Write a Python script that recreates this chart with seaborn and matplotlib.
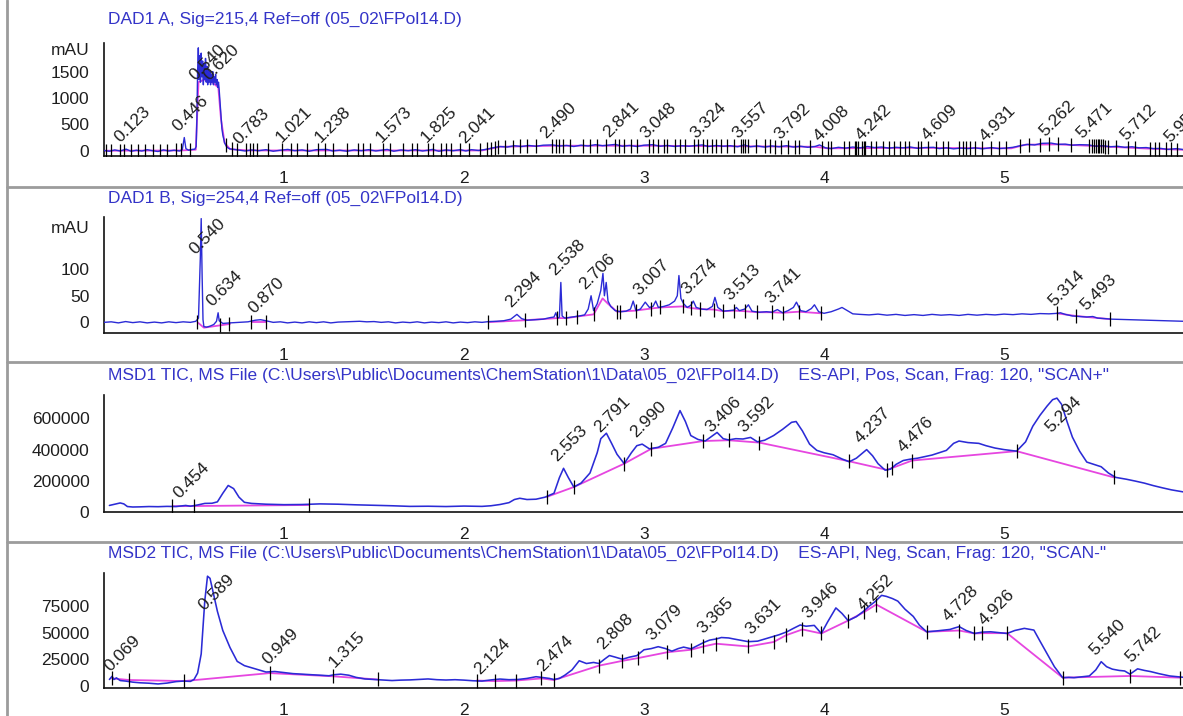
import numpy as np
import matplotlib
matplotlib.use("Agg")
import matplotlib.pyplot as plt
from matplotlib.lines import Line2D
from matplotlib.ticker import FixedLocator, MultipleLocator
import seaborn as sns

NAN = float("nan")

# ---------------- DAD1 A, 215 nm ----------------
dad_a_title = r"DAD1 A, Sig=215,4 Ref=off (05_02\FPol14.D)"
dad_a_trace = [
    (0.00, 5), (0.03, -10), (0.06, 15), (0.09, -5), (0.123, 30), (0.15, -10), (0.18, 10),
    (0.21, -5), (0.24, 20), (0.27, 0), (0.30, -15), (0.33, 15), (0.36, -5), (0.39, 10),
    (0.42, -5), (0.435, 20), (0.446, 250), (0.455, 40), (0.47, 10), (0.49, 25), (0.505, 30),
    (0.512, 80), (0.516, 600), (0.52, 1500), (0.524, 1950), (0.528, 1350), (0.532, 1800),
    (0.536, 1300), (0.540, 1850), (0.544, 1400), (0.548, 1700), (0.552, 1250), (0.556, 1650),
    (0.560, 1350), (0.564, 1750), (0.568, 1300), (0.572, 1600), (0.576, 1250), (0.580, 1550),
    (0.584, 1300), (0.588, 1500), (0.592, 1250), (0.596, 1450), (0.600, 1300), (0.604, 1500),
    (0.608, 1250), (0.612, 1400), (0.616, 1300), (0.620, 1450), (0.624, 1250), (0.628, 1350),
    (0.632, 1200), (0.636, 1300), (0.640, 1150), (0.645, 900), (0.650, 650), (0.655, 420),
    (0.660, 300), (0.665, 220), (0.670, 150), (0.680, 80), (0.690, 50), (0.700, 35),
    (0.72, 25), (0.75, 10), (0.783, -5), (0.82, 15), (0.86, 0), (0.90, 20), (0.94, -10),
    (0.98, 10), (1.021, 25), (1.06, 0), (1.10, 15), (1.14, -10), (1.18, 20), (1.238, 25),
    (1.27, -5), (1.31, 10), (1.35, -10), (1.39, 15), (1.43, 0), (1.47, 20), (1.51, -5),
    (1.54, 10), (1.573, 25), (1.61, -10), (1.65, 15), (1.69, 0), (1.73, 20), (1.77, -5),
    (1.80, 10), (1.825, 25), (1.86, -10), (1.90, 15), (1.94, 0), (1.98, 20), (2.01, -5),
    (2.041, 20), (2.08, 5), (2.12, 25), (2.16, 55), (2.20, 80), (2.24, 70), (2.28, 95),
    (2.32, 80), (2.36, 100), (2.40, 85), (2.44, 105), (2.490, 110), (2.53, 90), (2.57, 100),
    (2.61, 80), (2.65, 105), (2.69, 90), (2.73, 115), (2.77, 95), (2.80, 105), (2.841, 120),
    (2.88, 85), (2.92, 100), (2.96, 80), (3.00, 105), (3.048, 115), (3.09, 85), (3.13, 100),
    (3.17, 80), (3.21, 95), (3.25, 85), (3.29, 100), (3.324, 110), (3.36, 80), (3.40, 100),
    (3.44, 85), (3.48, 95), (3.52, 75), (3.557, 110), (3.59, 75), (3.63, 90), (3.67, 70),
    (3.71, 90), (3.75, 75), (3.792, 95), (3.83, 70), (3.87, 85), (3.91, 65), (3.95, 80),
    (3.975, 110), (4.008, 55), (4.04, 40), (4.08, 65), (4.12, 50), (4.16, 70), (4.20, 55),
    (4.242, 80), (4.28, 60), (4.32, 70), (4.36, 50), (4.40, 65), (4.44, 55), (4.48, 70),
    (4.52, 45), (4.56, 60), (4.609, 65), (4.64, 40), (4.68, 55), (4.72, 35), (4.76, 50),
    (4.80, 40), (4.84, 55), (4.88, 35), (4.931, 60), (4.97, 40), (5.01, 50), (5.05, 65),
    (5.09, 95), (5.13, 120), (5.17, 110), (5.21, 140), (5.262, 145), (5.30, 120), (5.34, 125),
    (5.38, 105), (5.42, 115), (5.471, 110), (5.51, 85), (5.55, 95), (5.59, 75), (5.63, 85),
    (5.67, 65), (5.712, 75), (5.75, 55), (5.79, 60), (5.83, 40), (5.87, 45), (5.91, 25),
    (5.958, 40), (6.00, 20),
]
dad_a_base = [
    (0.00, 0), (0.43, 5), (0.51, 20), (0.525, 1300), (0.56, 1350), (0.60, 1300), (0.635, 1200),
    (0.65, 600), (0.67, 150), (0.70, 30), (0.80, 5), (2.10, 5), (2.20, 75), (2.50, 95),
    (3.00, 95), (3.50, 85), (3.95, 75), (4.02, 45), (4.50, 55), (5.04, 45), (5.12, 115),
    (5.30, 120), (5.50, 90), (5.80, 40), (6.00, 18),
]
dad_a_events = [
    0.01, 0.04, 0.09, 0.11, 0.15, 0.19, 0.23, 0.27, 0.31, 0.35, 0.40, 0.43, 0.48, 0.68, 0.71,
    0.74, 0.79, 0.81, 0.83, 0.85, 0.91, 0.99, 1.04, 1.07, 1.13, 1.19, 1.23, 1.27, 1.35, 1.41,
    1.44, 1.48, 1.55, 1.59, 1.66, 1.71, 1.74, 1.80, 1.83, 1.87, 1.90, 1.93, 1.98, 2.03, 2.09,
    2.13, 2.15, 2.17, 2.19, 2.23, 2.27, 2.31, 2.35, 2.40, 2.49, 2.51, 2.53, 2.55, 2.59, 2.66,
    2.70, 2.74, 2.79, 2.84, 2.86, 2.89, 2.93, 2.96, 3.03, 3.05, 3.08, 3.11, 3.13, 3.17, 3.20,
    3.23, 3.28, 3.30, 3.33, 3.35, 3.38, 3.40, 3.43, 3.46, 3.50, 3.54, 3.55, 3.56, 3.58, 3.62,
    3.67, 3.70, 3.73, 3.76, 3.80, 3.84, 3.86, 3.92, 3.99, 4.02, 4.04, 4.11, 4.14, 4.17, 4.18,
    4.19, 4.21, 4.22, 4.23, 4.26, 4.29, 4.33, 4.36, 4.39, 4.42, 4.45, 4.47, 4.52, 4.54, 4.58,
    4.62, 4.66, 4.69, 4.75, 4.77, 4.79, 4.81, 4.84, 4.88, 4.93, 4.97, 5.01, 5.09, 5.14, 5.20,
    5.25, 5.30, 5.37, 5.47, 5.49, 5.50, 5.51, 5.52, 5.53, 5.54, 5.55, 5.56, 5.58, 5.62, 5.69,
    5.73, 5.81, 5.84, 5.86, 5.90, 5.93, 5.96,
]
dad_a_peaks = [0.123, 0.446, 0.540, 0.620, 0.783, 1.021, 1.238, 1.573, 1.825, 2.041, 2.490,
               2.841, 3.048, 3.324, 3.557, 3.792, 4.008, 4.242, 4.609, 4.931, 5.262, 5.471,
               5.712, 5.958]

# ---------------- DAD1 B, 254 nm ----------------
dad_b_title = r"DAD1 B, Sig=254,4 Ref=off (05_02\FPol14.D)"
dad_b_trace = [
    (0.00, 0), (0.04, 1), (0.08, -1), (0.12, 1.5), (0.16, -0.5), (0.20, 1), (0.24, -1),
    (0.28, 0.5), (0.32, -1), (0.36, 1), (0.40, -0.5), (0.44, 1), (0.48, 0), (0.51, 2),
    (0.525, 8), (0.535, 120), (0.540, 195), (0.545, 90), (0.55, 5), (0.555, -8), (0.57, -9),
    (0.59, -7), (0.61, -4), (0.625, 2), (0.634, 18), (0.64, 3), (0.66, -2), (0.70, -1),
    (0.75, 0), (0.80, 1), (0.84, 4), (0.870, 5), (0.90, 3), (0.94, 0), (0.98, 1), (1.02, -1),
    (1.06, 0.5), (1.10, -1), (1.14, 1), (1.18, -0.5), (1.22, 1), (1.26, -1), (1.30, 0.5),
    (1.34, 1), (1.38, 1.5), (1.42, 2), (1.46, 1), (1.50, 1.5), (1.54, 0), (1.58, 1),
    (1.62, -1), (1.66, 0.5), (1.70, -0.5), (1.74, 1), (1.78, -1), (1.82, 0.5), (1.86, -0.5),
    (1.90, 1), (1.94, -1), (1.98, 0.5), (2.02, -0.5), (2.06, 1), (2.10, 0), (2.14, 1.5),
    (2.18, 2), (2.22, 3), (2.26, 6), (2.294, 15), (2.32, 7), (2.35, 4), (2.40, 5), (2.44, 6),
    (2.48, 9), (2.50, 10), (2.51, 18), (2.52, 8), (2.53, 10), (2.538, 75), (2.545, 12),
    (2.56, 8), (2.60, 10), (2.64, 12), (2.67, 14), (2.69, 25), (2.706, 50), (2.72, 22),
    (2.74, 35), (2.76, 60), (2.772, 92), (2.78, 50), (2.79, 75), (2.80, 40), (2.815, 30),
    (2.84, 22), (2.87, 20), (2.90, 21), (2.925, 25), (2.94, 40), (2.955, 22), (2.98, 25),
    (3.007, 38), (3.03, 28), (3.05, 30), (3.065, 40), (3.08, 28), (3.11, 30), (3.14, 33),
    (3.17, 40), (3.185, 50), (3.194, 88), (3.205, 45), (3.22, 35), (3.24, 28), (3.26, 32),
    (3.274, 40), (3.29, 28), (3.32, 25), (3.35, 24), (3.38, 30), (3.394, 47), (3.41, 28),
    (3.44, 21), (3.47, 22), (3.50, 23), (3.513, 28), (3.53, 22), (3.56, 25), (3.58, 33),
    (3.60, 21), (3.64, 19), (3.68, 20), (3.71, 19), (3.741, 24), (3.77, 18), (3.80, 22),
    (3.83, 28), (3.847, 38), (3.87, 22), (3.90, 20), (3.93, 26), (3.947, 33), (3.97, 20),
    (4.00, 17), (4.04, 20), (4.08, 25), (4.10, 28), (4.13, 22), (4.16, 16), (4.20, 15),
    (4.25, 14), (4.30, 15.5), (4.35, 13.5), (4.40, 15), (4.45, 13), (4.50, 14.5), (4.55, 13),
    (4.60, 15), (4.65, 13.5), (4.70, 14.5), (4.75, 13), (4.80, 15), (4.85, 13.5), (4.90, 15),
    (4.95, 14), (5.00, 15.5), (5.05, 14.5), (5.10, 16), (5.15, 15), (5.20, 16.5), (5.25, 16),
    (5.30, 17), (5.314, 18), (5.34, 15), (5.38, 12), (5.42, 11), (5.46, 10), (5.493, 11),
    (5.52, 8), (5.56, 7), (5.60, 6), (5.65, 5.5), (5.70, 5), (5.75, 4.5), (5.80, 4),
    (5.85, 3.5), (5.90, 3), (5.95, 2.5), (6.00, 2),
]
dad_b_base = [
    (0.52, 0), (0.555, -10), (0.70, -3), (NAN, NAN),
    (0.82, 1), (0.90, 1), (NAN, NAN),
    (2.14, 0.5), (2.34, 4), (2.52, 8), (2.57, 8), (2.63, 11), (2.72, 15), (2.77, 45),
    (2.80, 35), (2.85, 20), (2.95, 22), (3.04, 26), (3.09, 28), (3.215, 30), (3.26, 27),
    (3.31, 25), (3.39, 24), (3.44, 21), (3.50, 22), (3.56, 21), (3.63, 19), (3.71, 19),
    (3.77, 18), (3.86, 20), (3.985, 17), (NAN, NAN),
    (5.294, 17), (5.40, 12), (5.59, 6),
]
dad_b_events = [0.519, 0.647, 0.694, 0.817, 0.898, 2.136, 2.338, 2.519, 2.568, 2.63, 2.72,
                2.85, 2.868, 2.953, 3.04, 3.09, 3.215, 3.262, 3.31, 3.39, 3.44, 3.50, 3.56,
                3.63, 3.71, 3.77, 3.86, 3.985, 5.294, 5.40, 5.59]
dad_b_peaks = [0.540, 0.634, 0.870, 2.294, 2.538, 2.706, 3.007, 3.274, 3.513, 3.741,
               5.314, 5.493]

# ---------------- MSD1 TIC, positive scan ----------------
msd1_title = (r"MSD1 TIC, MS File (C:\Users\Public\Documents\ChemStation\1\Data\05_02\FPol14.D)"
              r'    ES-API, Pos, Scan, Frag: 120, "SCAN+"')
msd1_trace = [
    (0.03, 42000), (0.06, 50000), (0.09, 58000), (0.11, 52000), (0.13, 35000), (0.16, 32000),
    (0.20, 33000), (0.25, 35000), (0.30, 34000), (0.35, 36000), (0.40, 35000), (0.454, 42000),
    (0.48, 37000), (0.52, 45000), (0.56, 55000), (0.60, 56000), (0.63, 65000), (0.66, 120000),
    (0.69, 170000), (0.72, 150000), (0.75, 95000), (0.78, 62000), (0.82, 55000), (0.90, 50000),
    (1.00, 47000), (1.10, 48000), (1.20, 52000), (1.30, 50000), (1.40, 46000), (1.50, 43000),
    (1.60, 40000), (1.70, 36000), (1.80, 37000), (1.90, 35000), (2.00, 38000), (2.10, 36000),
    (2.15, 40000), (2.20, 48000), (2.25, 60000), (2.28, 80000), (2.31, 88000), (2.35, 80000),
    (2.40, 82000), (2.45, 95000), (2.50, 120000), (2.53, 220000), (2.553, 280000),
    (2.58, 220000), (2.61, 160000), (2.65, 185000), (2.70, 250000), (2.74, 380000),
    (2.76, 470000), (2.791, 505000), (2.82, 440000), (2.85, 370000), (2.89, 310000),
    (2.93, 380000), (2.96, 425000), (2.990, 435000), (3.03, 405000), (3.08, 415000),
    (3.12, 440000), (3.16, 540000), (3.20, 650000), (3.23, 580000), (3.26, 490000),
    (3.30, 465000), (3.34, 455000), (3.37, 480000), (3.406, 510000), (3.44, 470000),
    (3.47, 462000), (3.51, 470000), (3.55, 468000), (3.592, 478000), (3.63, 450000),
    (3.67, 460000), (3.72, 490000), (3.77, 530000), (3.82, 575000), (3.845, 580000),
    (3.88, 520000), (3.92, 435000), (3.96, 395000), (4.00, 380000), (4.05, 367000),
    (4.10, 340000), (4.14, 322000), (4.18, 345000), (4.237, 400000), (4.27, 360000),
    (4.30, 310000), (4.34, 268000), (4.37, 275000), (4.40, 305000), (4.44, 330000),
    (4.476, 338000), (4.52, 345000), (4.56, 355000), (4.60, 365000), (4.64, 380000),
    (4.68, 395000), (4.72, 440000), (4.75, 455000), (4.80, 445000), (4.86, 440000),
    (4.90, 425000), (4.95, 410000), (5.00, 400000), (5.07, 390000), (5.12, 450000),
    (5.16, 550000), (5.20, 620000), (5.24, 680000), (5.27, 720000), (5.294, 730000),
    (5.32, 690000), (5.35, 580000), (5.38, 480000), (5.42, 390000), (5.46, 320000),
    (5.50, 305000), (5.54, 290000), (5.58, 250000), (5.62, 222000), (5.68, 210000),
    (5.73, 198000), (5.78, 185000), (5.83, 169000), (5.88, 155000), (5.93, 142000),
    (5.98, 132000), (6.00, 128000),
]
msd1_base = [
    (0.38, 37000), (1.14, 45000), (NAN, NAN),
    (2.46, 97000), (2.61, 160000), (2.89, 310000), (3.04, 405000), (3.33, 455000),
    (3.47, 460000), (3.64, 445000), (4.14, 325000), (4.35, 270000), (4.49, 330000),
    (5.07, 390000), (5.61, 222000),
]
msd1_events = [0.38, 0.50, 1.14, 2.46, 2.61, 2.89, 3.04, 3.33, 3.47, 3.64, 4.14, 4.35,
               4.38, 4.49, 5.07, 5.61]
msd1_peaks = [0.454, 2.553, 2.791, 2.990, 3.406, 3.592, 4.237, 4.476, 5.294]

# ---------------- MSD2 TIC, negative scan ----------------
msd2_title = (r"MSD2 TIC, MS File (C:\Users\Public\Documents\ChemStation\1\Data\05_02\FPol14.D)"
              r'    ES-API, Neg, Scan, Frag: 120, "SCAN-"')
msd2_trace = [
    (0.03, 6000), (0.045, 9000), (0.055, 6000), (0.069, 7500), (0.09, 5000), (0.12, 4500),
    (0.16, 3500), (0.20, 2900), (0.25, 2500), (0.30, 1800), (0.35, 2600), (0.40, 4000),
    (0.44, 4500), (0.48, 4200), (0.50, 6000), (0.52, 12000), (0.54, 30000), (0.56, 80000),
    (0.575, 103000), (0.589, 101000), (0.61, 85000), (0.63, 70000), (0.66, 52000),
    (0.70, 36000), (0.74, 23000), (0.78, 19000), (0.82, 17000), (0.86, 15000), (0.90, 13000),
    (0.949, 13500), (1.00, 12500), (1.05, 11500), (1.10, 11000), (1.15, 10500), (1.20, 10000),
    (1.25, 9500), (1.28, 10500), (1.315, 11000), (1.36, 10000), (1.40, 8000), (1.45, 6500),
    (1.50, 6000), (1.55, 5500), (1.60, 5000), (1.65, 5400), (1.70, 5600), (1.75, 6000),
    (1.80, 6500), (1.85, 5800), (1.90, 5500), (1.95, 5800), (2.00, 5400), (2.05, 4800),
    (2.10, 4500), (2.124, 5000), (2.15, 5600), (2.20, 6400), (2.25, 5800), (2.30, 6000),
    (2.35, 7000), (2.40, 8600), (2.43, 8000), (2.474, 7000), (2.50, 6000), (2.53, 7000),
    (2.56, 10000), (2.60, 15000), (2.64, 23600), (2.68, 21000), (2.72, 22000), (2.75, 21000),
    (2.78, 25000), (2.808, 28500), (2.84, 27000), (2.88, 25000), (2.92, 27000),
    (2.96, 28400), (3.00, 33900), (3.04, 35000), (3.079, 36800), (3.12, 35000),
    (3.155, 32600), (3.19, 35000), (3.22, 36400), (3.262, 34800), (3.30, 38000),
    (3.335, 41000), (3.365, 43000), (3.40, 44000), (3.43, 45400), (3.47, 45000),
    (3.50, 44000), (3.54, 42800), (3.58, 41500), (3.631, 42000), (3.67, 44000),
    (3.708, 46000), (3.75, 48000), (3.794, 50800), (3.83, 54000), (3.868, 57200),
    (3.90, 56000), (3.946, 56800), (3.985, 49200), (4.02, 60000), (4.066, 73200),
    (4.10, 68000), (4.134, 61300), (4.18, 65000), (4.219, 70000), (4.252, 75000),
    (4.283, 79000), (4.32, 85000), (4.347, 84000), (4.38, 82000), (4.41, 79600),
    (4.45, 72000), (4.496, 65200), (4.53, 57000), (4.57, 50800), (4.62, 51500),
    (4.666, 52400), (4.70, 53000), (4.728, 54500), (4.751, 55600), (4.79, 52000),
    (4.836, 49200), (4.88, 50500), (4.926, 50800), (4.97, 50000), (5.017, 49200),
    (5.06, 52000), (5.113, 54000), (5.166, 52400), (5.20, 42000), (5.24, 30000),
    (5.28, 18000), (5.326, 7700), (5.36, 8000), (5.389, 7700), (5.43, 8500), (5.474, 9300),
    (5.51, 15000), (5.540, 22700), (5.57, 18000), (5.602, 15700), (5.64, 14500),
    (5.67, 14000), (5.70, 11000), (5.742, 16000), (5.78, 14500), (5.815, 13400),
    (5.86, 11500), (5.921, 9300), (5.98, 8300), (6.00, 8000),
]
msd2_base = [
    (0.045, 7000), (0.14, 5500), (0.445, 4500), (0.92, 12000), (1.27, 9000), (1.52, 6000),
    (NAN, NAN),
    (2.07, 5000), (2.17, 4500), (2.29, 5000), (2.43, 7000), (2.50, 5500), (2.75, 19000),
    (2.88, 23500), (2.964, 26000), (3.13, 31600), (3.26, 33900), (3.33, 37000),
    (3.40, 39600), (3.58, 37000), (3.72, 41200), (3.79, 47600), (3.88, 53000),
    (3.985, 49200), (4.134, 61300), (4.22, 69000), (4.29, 76400), (4.57, 50800),
    (4.75, 52000), (4.836, 49200), (4.88, 49500), (5.017, 49500), (5.326, 7700),
    (5.70, 9300), (5.98, 7700),
]
msd2_events = [0.045, 0.14, 0.445, 0.92, 1.27, 1.52, 2.07, 2.17, 2.29, 2.43, 2.50, 2.75,
               2.88, 2.964, 3.13, 3.26, 3.33, 3.40, 3.58, 3.72, 3.79, 3.88, 3.985, 4.134,
               4.22, 4.29, 4.57, 4.75, 4.836, 4.88, 5.017, 5.326, 5.70, 5.98]
msd2_peaks = [0.069, 0.589, 0.949, 1.315, 2.124, 2.474, 2.808, 3.079, 3.365, 3.631, 3.946,
              4.252, 4.728, 4.926, 5.540, 5.742]

# ---------------- styling ----------------
sns.set_style("white")
plt.rcParams["font.family"] = ["Liberation Sans", "DejaVu Sans"]

W, H = 1183, 716
SIGNAL = "#2b2bd6"
BASELINE = "#e646e0"
TITLE = "#3434c8"
INK = "#1e1e1e"
FS = 12.5

fig = plt.figure(figsize=(W / 100, H / 100), dpi=100)
fig.patch.set_facecolor("white")

panels = [
    dict(title=dad_a_title, trace=dad_a_trace, base=dad_a_base, events=dad_a_events,
         peaks=dad_a_peaks, top=43, bottom=156, title_y=19, ylim=(-100, 2042),
         yticks=[0, 500, 1000, 1500, 1920], ylabels=["0", "500", "1000", "1500", "mAU"],
         minor=100, lw=1.0),
    dict(title=dad_b_title, trace=dad_b_trace, base=dad_b_base, events=dad_b_events,
         peaks=dad_b_peaks, top=217, bottom=333, title_y=198, ylim=(-20, 198),
         yticks=[0, 50, 100, 180], ylabels=["0", "50", "100", "mAU"], minor=10, lw=1.0),
    dict(title=msd1_title, trace=msd1_trace, base=msd1_base, events=msd1_events,
         peaks=msd1_peaks, top=395, bottom=512, title_y=375, ylim=(0, 750000),
         yticks=[0, 200000, 400000, 600000],
         ylabels=["0", "200000", "400000", "600000"], minor=50000, lw=1.15),
    dict(title=msd2_title, trace=msd2_trace, base=msd2_base, events=msd2_events,
         peaks=msd2_peaks, top=573, bottom=688, title_y=553, ylim=(-2000, 106000),
         yticks=[0, 25000, 50000, 75000], ylabels=["0", "25000", "50000", "75000"],
         minor=5000, lw=1.15),
]

for p in panels:
    ax = fig.add_axes([104 / W, 1 - p["bottom"] / H, 1080 / W, (p["bottom"] - p["top"]) / H])
    ax.set_facecolor("none")
    t, v = (np.array(a, float) for a in zip(*p["trace"]))
    bt, bv = (np.array(a, float) for a in zip(*p["base"]))

    # integration baseline, drawn segment by segment
    gaps = np.where(np.isnan(bt))[0]
    for st, sv in zip(np.split(bt, gaps), np.split(bv, gaps)):
        keep = ~np.isnan(st)
        if keep.sum() > 1:
            sns.lineplot(x=st[keep], y=sv[keep], ax=ax, color=BASELINE, lw=1.3,
                         sort=False, estimator=None, zorder=2)

    # detector signal
    sns.lineplot(x=t, y=v, ax=ax, color=SIGNAL, lw=p["lw"], sort=False, estimator=None,
                 zorder=3)

    # integration event marks on the baseline
    okb = ~np.isnan(bt)
    ev = np.array(p["events"])
    ev_y = np.interp(ev, bt[okb], bv[okb])
    ax.plot(ev, ev_y, ls="none", marker="|", ms=10, mew=0.9, color="black", zorder=4)

    ax.set_xlim(0, 6)
    ax.set_ylim(*p["ylim"])
    ax.xaxis.set_major_locator(FixedLocator([1, 2, 3, 4, 5]))
    ax.xaxis.set_minor_locator(MultipleLocator(0.2))
    ax.set_xticklabels(["1", "2", "3", "4", "5"])
    ax.yaxis.set_major_locator(FixedLocator(p["yticks"]))
    ax.yaxis.set_minor_locator(MultipleLocator(p["minor"]))
    ax.set_yticklabels(p["ylabels"])
    ax.tick_params(which="major", length=7.5, width=1.0, color="#333333", labelsize=FS,
                   labelcolor=INK, direction="out")
    ax.tick_params(which="minor", length=4, width=0.9, color="#333333", direction="out")
    ax.tick_params(axis="x", which="major", pad=3.0)
    ax.tick_params(axis="y", which="major", pad=3.0)
    ax.set_xlabel("")
    ax.set_ylabel("")
    for side in ("top", "right"):
        ax.spines[side].set_visible(False)
    for side in ("left", "bottom"):
        ax.spines[side].set_linewidth(1.2)
        ax.spines[side].set_color("#111111")

    # retention-time labels, rotated, kept inside the plotting area
    top_px = ax.transAxes.transform((0, 1))[1]
    for rt in p["peaks"]:
        y = np.interp(rt, t, v)
        xp, yp = ax.transData.transform((rt, y))
        yp = min(yp + 6, top_px - 38)
        xd, yd = ax.transData.inverted().transform((xp - 6, yp))
        ax.text(xd, yd, f"{rt:.3f}", rotation=45, rotation_mode="anchor", ha="left",
                va="baseline", fontsize=FS, color=INK, zorder=5, clip_on=False)

    fig.text(108 / W, 1 - p["title_y"] / H, p["title"], color=TITLE, fontsize=FS,
             ha="left", va="center")

# panel frames
for yline in (187, 362, 542):
    fig.add_artist(Line2D([7 / W, 1], [1 - yline / H] * 2, transform=fig.transFigure,
                          color="#9c9c9c", lw=2))
fig.add_artist(Line2D([7 / W, 7 / W], [0, 1], transform=fig.transFigure, color="#9c9c9c", lw=2))

fig.savefig("out.png", dpi=100, facecolor="white")
